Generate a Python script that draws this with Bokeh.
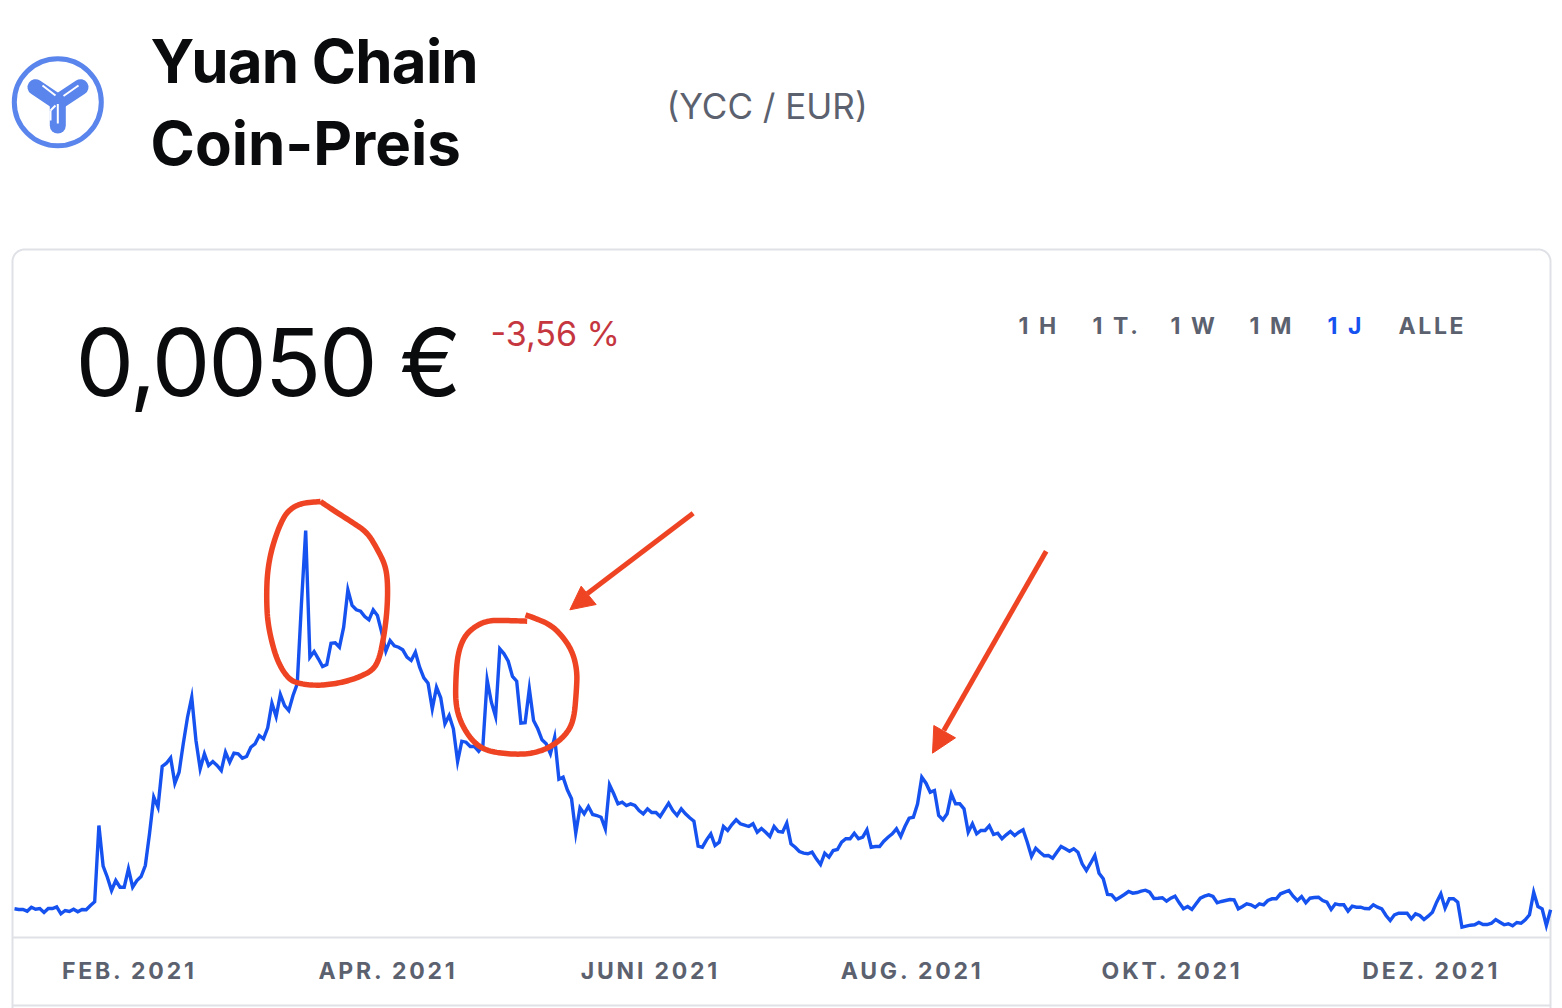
import numpy as np
from bokeh.core.properties import value
from bokeh.document import Document
from bokeh.embed import file_html
from bokeh.models import CustomJS, FixedTicker, Range1d
from bokeh.plotting import figure
from bokeh.resources import INLINE

# ---------------- data ----------------
# YCC / EUR price, in units of 0.00001 EUR, one value per day
price_e5 = [
 499.7,499,499,497.3,501.3,499.3,500,496,500,500,501.7,494.7,498,497,499.3,496.7,499,498.7,503,506.7,
 583,542.3,531.3,518,528,521.3,521.3,539.7,521.3,528,
 532,543,575,611.3,601.3,642,645.3,650.7,625.3,636.3,
 665,691.3,711.3,668,639.7,654.7,643,647,643,638,
 656.3,646.3,655.3,654.7,650.3,652,661.3,664.7,673,669.7,
 680.7,705.3,692,714,703,698,713,724.7,805,878,
 751.3,757,749.7,742,744,765.3,765.7,761.3,781.3,818.7,
 803,798.7,797.3,792,788.7,798.7,793,776.3,757.3,768,
 762.7,761.3,758.7,751.3,748,756.3,741.3,730.7,725.3,699.7,
 721.3,710.7,684.7,693,679.7,647,667.3,666.3,662,662,
 657.3,663,728.7,706.3,692,759.7,754.7,747.3,732,727.3,
 685.3,685.7,719.7,688,679.7,668.7,664.7,654.7,671.3,629.3,
 631.3,618.7,609.7,575.3,600.7,594.7,602,594,593,591.3,
 579.7,623.7,614.7,604.7,606.3,603,604.7,603,598,594.7,
 599.7,596,596,592,598.7,605.3,598,593,599.7,594.7,
 590.7,587.3,562.3,561.3,568.7,574.7,563,566.3,582,578,
 584,588.7,584.7,583.3,582,584.7,576.3,580,576.3,572,
 582,577,576.3,585.3,564.7,561.3,557,555.3,554.7,556.3,
 549.7,544,555.3,551.3,558,559,566.3,569.7,569.7,575.3,
 569.7,571.3,578.7,561.3,562,562,567.3,571.3,574.7,579.7,
 572,582,590.3,591.3,604.7,631.3,625.3,616.3,618,593,
 588.7,594.7,614.7,604.7,604.7,599.7,576.3,584.7,574.7,578,
 578,582.7,574,575.3,569.7,573.7,577,573,576.3,578.7,
 566.3,552,560.3,556.3,552.7,553,550.3,556.3,562,559.7,
 557.3,559.7,556.3,544.7,538,545.3,553,535.3,529.7,514,
 513.7,508.7,511.3,514,517,515.3,516,517.3,518.3,516.3,
 510,510.3,510.7,507.3,510.3,512.3,505.7,499.7,502,499,
 504.7,510.3,512.3,513.7,512,505.7,507,508,509,508.7,
 499.7,502,504.7,503.7,501.3,504.7,503.7,508,509.7,509.7,
 514.7,516.3,518,512.3,508,512,505.7,510.3,511,511.3,
 508,506.3,499,504.7,503.7,503.7,497.3,502.3,501.3,501.3,
 500,499.7,503.7,501.3,499.7,493,488,493.7,495.3,495.3,
 495.3,489.7,494.7,493,489,492.3,496.3,506.3,514.7,500.3,
 509.7,509.7,506.3,481.3,482.3,483.3,483.7,486,484,484,
 485.3,489,486.3,483.7,484.7,482.7,486,485.3,488.7,493.7,
 516.3,502,499.7,483,498.7,
]
tick_days = [24.3, 85.6, 147.7, 209.8, 271.4, 332.8]
tick_labels = ["FEB. 2021", "APR. 2021", "JUNI 2021", "AUG. 2021", "OKT. 2021", "DEZ. 2021"]
range_buttons = ["1 H", "1 T.", "1 W", "1 M", "1 J", "ALLE"]

days = list(range(len(price_e5)))
price_eur = [v * 1e-5 for v in price_e5]

# ---------------- styles ----------------
BLUE, RED, INK, GRAY, BORDER = "#1652f0", "#ef4423", "#0a0b0d", "#5b616e", "#dfe1e6"
LOGO = "#5a85ec"
FONT = value("Inter")

p = figure(
    width=1562, height=1008, output_backend="svg", toolbar_location=None,
    x_range=Range1d(-14 / 4.22, 1548 / 4.22), y_range=Range1d(0.004, 0.01408),
    min_border=0, min_border_left=0, min_border_right=0, min_border_top=0, min_border_bottom=0,
    outline_line_color=None, background_fill_color="white", border_fill_color="white",
)
# page-pixel coordinate system for the surrounding page furniture
p.extra_x_ranges["px"] = Range1d(0, 1562)
p.extra_y_ranges["px"] = Range1d(1008, 0)
PX = dict(x_range_name="px", y_range_name="px")

p.grid.visible = False
p.yaxis.visible = False
ax = p.xaxis[0]
ax.fixed_location = 0.00471
ax.ticker = FixedTicker(ticks=tick_days)
ax.major_label_overrides = dict(zip(tick_days, tick_labels))
ax.axis_line_color = None
ax.major_tick_line_color = None
ax.minor_tick_line_color = None
ax.major_label_standoff = 13
ax.major_label_text_font = "Inter"
ax.major_label_text_font_size = "23px"
ax.major_label_text_font_style = "bold"
ax.major_label_text_color = GRAY

# card frame
r = 12
t = np.linspace(0, np.pi / 2, 12)
cx = [12.0] + list(12 + r - r * np.cos(t)) + list(1550 - r + r * np.sin(t)) + [1550.0]
cy = [1008.0] + list(249 + r - r * np.sin(t)) + list(249 + r - r * np.cos(t)) + [1008.0]
p.line(cx, cy, line_color=BORDER, line_width=2, **PX)
p.line([12, 1550], [937, 937], line_color=BORDER, line_width=2, **PX)
p.line([12, 1550], [1005, 1005], line_color=BORDER, line_width=2, **PX)

# price line
p.line(days, price_eur, line_color=BLUE, line_width=3.4, line_join="miter")


def text(x, y, s, size, color, style="normal"):
    p.text([x], [y - 0.39 * size], text=[s], text_font=FONT, text_font_size=f"{size}px", text_color=color,
           text_font_style=style, text_baseline="alphabetic", text_align="left", **PX)


text(150, 84, "Yuan Chain", 60, INK, "bold")
text(150, 166, "Coin-Preis", 60, INK, "bold")
text(666, 119, "(YCC / EUR)", 35, GRAY)
text(75, 398, "0,0050 €", 93, INK)
text(490, 346, "-3,56 %", 34, "#c5363e")
for bx, b in zip([1018, 1092, 1170, 1249, 1327, 1398], range_buttons):
    text(bx, 334, b, 23, BLUE if b == "1 J" else GRAY, "bold")

# logo
p.scatter([57.3], [101.7], size=87, marker="circle", fill_alpha=0, line_color=LOGO, line_width=5, **PX)
lc = (57.3, 101.7)
for ex, ey in [(35, 86.7), (80, 86.7), (57.3, 125)]:
    p.line([lc[0], ex], [lc[1], ey], line_color=LOGO, line_width=16, line_cap="round", **PX)
for xs, ys in [([42, 55], [85, 95]), ([78, 63], [85, 95.5]), ([57.3, 57.3], [103.5, 123]),
               ([55, 50], [105, 110]), ([50, 50], [110, 120])]:
    p.line(xs, ys, line_color="white", line_width=2, **PX)


# hand-drawn red marks, traced in zoom coordinates of the reference
def zx(v): return [250 + a / 3 for a in v]
def zy(v): return [490 + a / 3 for a in v]


def smooth(xs, ys, n=3):
    """Round off a traced freehand annotation (Chaikin corner cutting)."""
    pts = np.column_stack([xs, ys]).astype(float)
    for _ in range(n):
        a, b = pts[:-1], pts[1:]
        q, s = 0.75 * a + 0.25 * b, 0.25 * a + 0.75 * b
        mid = np.empty((2 * len(a), 2))
        mid[0::2], mid[1::2] = q, s
        pts = np.vstack([pts[:1], mid, pts[-1:]])
    return pts[:, 0].tolist(), pts[:, 1].tolist()


ring1_x = [210,150,110,85,62,50,48,52,70,90,115,140,190,240,290,330,365,385,400,410,412,405,380,350,300,250,210]
ring1_y = [33,38,62,110,180,250,330,400,480,530,565,578,585,582,572,558,540,510,440,360,280,225,175,125,92,60,33]
ring2_x = [830,770,710,670,640,622,616,615,630,660,695,740,800,850,900,945,970,978,980,965,930,895,850,825]
ring2_y = [392,390,390,410,440,490,560,640,695,745,775,787,792,788,770,735,690,600,540,480,430,400,382,373]
for rx, ry in [(ring1_x, ring1_y), (ring2_x, ring2_y)]:
    sx, sy = smooth(zx(rx), zy(ry))
    p.line(sx, sy, line_color=RED, line_width=5.5, line_join="round", **PX)

p.line(zx([1328, 1010]), zy([68, 310]), line_color=RED, line_width=5, **PX)
p.patch(zx([958, 992, 1037]), zy([358, 287, 342]), fill_color=RED, line_color=RED, line_width=1, **PX)
ax2 = [407, 100]; ay2 = [32, 570]
p.line([910 + a / 3 for a in ax2], [540 + a / 3 for a in ay2], line_color=RED, line_width=5, **PX)
hx = [66, 70, 135]; hy = [638, 555, 592]
p.patch([910 + a / 3 for a in hx], [540 + a / 3 for a in hy], fill_color=RED, line_color=RED, line_width=1, **PX)

# letter spacing of the page's texts (SVG text stays real text)
js = """
const ticks = new Set(%s);
const btns = new Set(%s);
function walk(root) {
  root.querySelectorAll('*').forEach(el => {
    if (el.shadowRoot) walk(el.shadowRoot);
    if (el.tagName === 'text') {
      const s = el.textContent;
      if (ticks.has(s)) el.style.letterSpacing = '2.8px';
      else if (btns.has(s)) el.style.letterSpacing = '2.6px';
      else if (s === 'Yuan Chain') el.style.letterSpacing = '-0.8px';
      else if (s === '0,0050 €') el.style.letterSpacing = '-2.2px';
    }
  });
}
let n = 0;
const h = setInterval(() => { walk(document); if (++n > 20) clearInterval(h); }, 100);
""" % (str(tick_labels), str(range_buttons))
doc = Document()
doc.add_root(p)
doc.js_on_event("document_ready", CustomJS(code=js))

open("out.html", "w").write(file_html(doc, INLINE))
